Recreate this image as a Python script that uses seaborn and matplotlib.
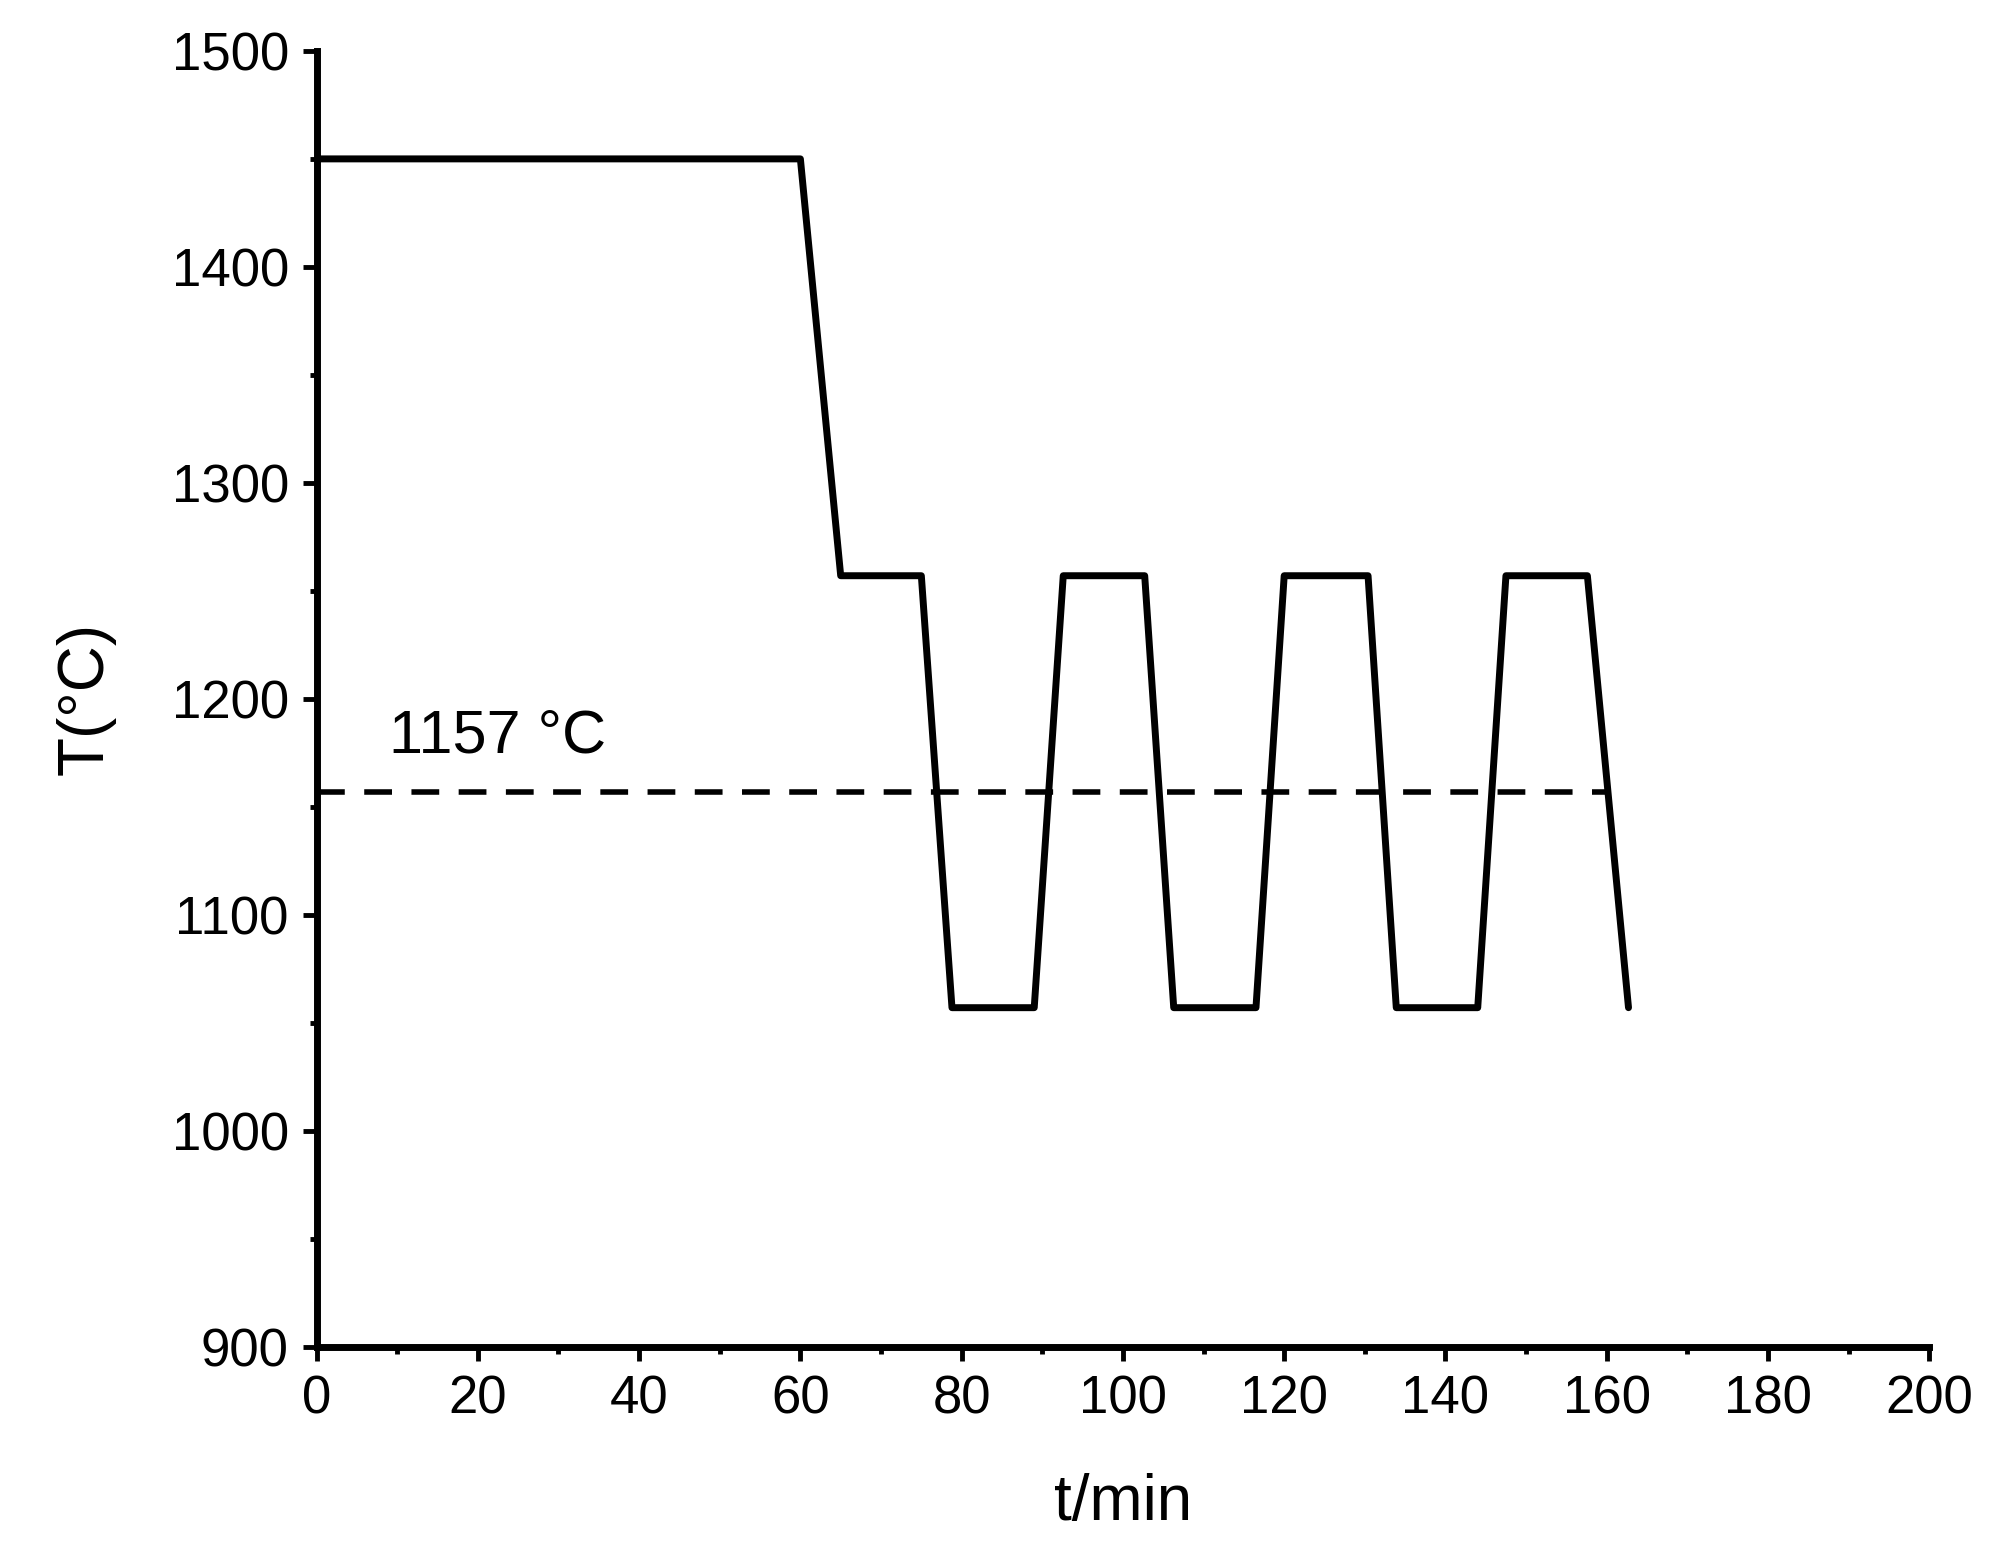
import matplotlib
matplotlib.use("Agg")
import matplotlib.pyplot as plt
import seaborn as sns
import pandas as pd
from matplotlib.ticker import MultipleLocator

t_min = [0, 60, 65, 75, 78.8, 89, 92.6, 102.7, 106.3, 116.5, 120, 130.4, 133.9, 144, 147.5, 157.6, 162.7]
temp_c = [1450, 1450, 1257, 1257, 1057, 1057, 1257, 1257, 1057, 1057, 1257, 1257, 1057, 1057, 1257, 1257, 1057]
ref_x = [0, 160]
ref_y = [1157, 1157]
ref_label = "1157 °C"

sns.set_theme(style="ticks")
plt.rcParams['font.family'] = ['Liberation Sans', 'DejaVu Sans']
plt.rcParams['text.color'] = 'black'
plt.rcParams['axes.labelcolor'] = 'black'
plt.rcParams['xtick.color'] = 'black'
plt.rcParams['ytick.color'] = 'black'

fig = plt.figure(figsize=(19.91, 15.66), dpi=100)
ax = fig.add_axes([0.159, 0.14, 0.81, 0.8275])
df = pd.DataFrame({"t": t_min, "T": temp_c})
sns.lineplot(data=df, x="t", y="T", ax=ax, color="black", linewidth=5, sort=False)
ax.plot(ref_x, ref_y, color="black", linewidth=4, linestyle=(0, (5, 3.5)))
ax.text(9, 1175, ref_label, fontsize=44)

ax.set_xlim(0, 200)
ax.set_ylim(900, 1500)
ax.xaxis.set_major_locator(MultipleLocator(20))
ax.xaxis.set_minor_locator(MultipleLocator(10))
ax.yaxis.set_major_locator(MultipleLocator(100))
ax.yaxis.set_minor_locator(MultipleLocator(50))
ax.tick_params(which="major", length=10, width=3.5, labelsize=38, direction="out", pad=10)
ax.tick_params(which="minor", length=5, width=3.5, direction="out")
for s in ["top", "right"]:
    ax.spines[s].set_visible(False)
for s in ["left", "bottom"]:
    ax.spines[s].set_linewidth(5)
    ax.spines[s].set_color("black")
ax.set_xlabel("t/min", fontsize=46, labelpad=35)
ax.set_ylabel("T(°C)", fontsize=46, labelpad=40)
fig.savefig("out.png", dpi=100)
